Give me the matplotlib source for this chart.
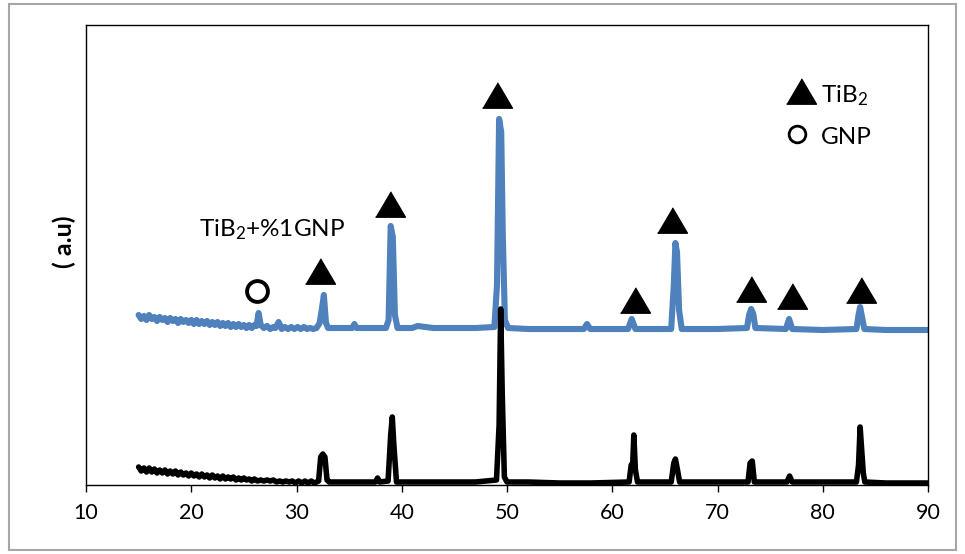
import matplotlib
matplotlib.use("Agg")
import matplotlib.pyplot as plt
from matplotlib.patches import Rectangle

plt.rcParams['font.family'] = ['Lato', 'DejaVu Sans']
plt.rcParams['mathtext.fontset'] = 'custom'
plt.rcParams['mathtext.rm'] = 'Lato'
plt.rcParams['mathtext.it'] = 'Lato:italic'

# TiB2 + 1% GNP pattern (upper, blue)
blue_2theta = [15.0, 15.25, 15.5, 15.75, 16.0, 16.25, 16.5, 16.75, 17.0, 17.25,
               17.5, 17.75, 18.0, 18.25, 18.5, 18.75, 19.0, 19.25, 19.5, 19.75,
               20.0, 20.25, 20.5, 20.75, 21.0, 21.25, 21.5, 21.75, 22.0, 22.25,
               22.5, 22.75, 23.0, 23.25, 23.5, 23.75, 24.0, 24.25, 24.5, 24.75,
               25.0, 25.25, 25.5, 25.75, 26.0, 26.2, 26.4, 26.6, 26.9, 27.2,
               27.5, 27.8, 28.0, 28.3, 28.6, 28.9, 29.2, 29.5, 29.8, 30.1,
               30.4, 30.7, 31.0, 31.3, 31.6, 31.9, 32.2, 32.4, 32.6, 32.8,
               33.0, 34.0, 35.3, 35.5, 35.7, 37.0, 38.5, 38.75, 38.95, 39.15,
               39.35, 39.6, 41.0, 41.5, 43.0, 45.0, 47.0, 48.8, 49.05, 49.25,
               49.45, 49.6, 49.8, 50.1, 52.0, 55.0, 57.3, 57.6, 57.9, 60.0,
               61.5, 61.85, 62.2, 63.0, 65.6, 65.85, 66.0, 66.15, 66.35, 66.6,
               70.0, 72.8, 73.0, 73.2, 73.4, 73.6, 76.5, 76.8, 77.1, 80.0,
               83.2, 83.4, 83.55, 83.75, 83.95, 86.0, 90.0]
blue_int = [170, 166, 169, 165, 170, 166, 168, 164, 168, 165,
            167, 163, 167, 164, 166, 162, 166, 163, 165, 162,
            165, 161, 165, 161, 164, 161, 164, 160, 163, 160,
            163, 159, 162, 159, 162, 158, 161, 158, 161, 158,
            160, 157, 160, 157, 160, 159, 172, 160, 157, 159,
            156, 158, 157, 163, 156, 158, 156, 158, 156, 158,
            156, 158, 156, 157, 156, 157, 162, 175, 190, 162,
            157, 157, 157, 161, 157, 157, 157, 165, 259, 248,
            170, 157, 157, 159, 157, 157, 157, 158, 200, 366,
            353, 250, 165, 157, 156, 156, 156, 161, 156, 156,
            156, 166, 156, 156, 156, 200, 242, 233, 175, 156,
            156, 157, 170, 176, 171, 157, 156, 166, 156, 155,
            156, 170, 178, 167, 156, 155, 155]

# TiB2 pattern (lower, black)
black_2theta = [15.0, 15.25, 15.5, 15.75, 16.0, 16.25, 16.5, 16.75, 17.0, 17.25,
                17.5, 17.75, 18.0, 18.25, 18.5, 18.75, 19.0, 19.25, 19.5, 19.75,
                20.0, 20.25, 20.5, 20.75, 21.0, 21.25, 21.5, 21.75, 22.0, 22.25,
                22.5, 22.75, 23.0, 23.25, 23.5, 23.75, 24.0, 24.25, 24.5, 24.75,
                25.0, 25.25, 25.5, 25.75, 26.0, 26.3, 26.6, 26.9, 27.2, 27.5,
                27.8, 28.1, 28.4, 28.7, 29.0, 29.3, 29.6, 29.9, 30.2, 30.5,
                30.8, 31.1, 31.4, 31.7, 32.1, 32.3, 32.5, 32.7, 32.9, 33.1,
                34.5, 36.0, 37.5, 37.7, 37.9, 38.7, 38.95, 39.1, 39.25, 39.5,
                41.0, 43.0, 45.0, 47.0, 49.0, 49.25, 49.4, 49.55, 49.75, 50.0,
                52.0, 55.0, 58.0, 61.6, 61.8, 61.95, 62.05, 62.2, 62.4, 65.6,
                65.85, 66.0, 66.2, 66.4, 72.9, 73.1, 73.3, 73.5, 76.6, 76.85,
                77.1, 83.2, 83.4, 83.55, 83.7, 83.85, 84.0, 86.0, 90.0]
black_int = [18, 14, 17, 13, 17, 13, 16, 12, 15, 12,
             15, 11, 14, 11, 14, 10, 13, 10, 12, 9,
             12, 9, 11, 8, 11, 8, 10, 7, 10, 7,
             9, 6, 9, 6, 8, 6, 8, 5, 7, 5,
             7, 5, 6, 4, 6, 4, 5, 4, 5, 4,
             5, 3, 4, 3, 4, 3, 4, 2, 4, 2,
             4, 2, 4, 2, 4, 28, 31, 28, 5, 3,
             3, 3, 3, 7, 3, 4, 50, 68, 40, 3,
             3, 3, 3, 3, 5, 60, 176, 90, 8, 3,
             3, 2, 2, 3, 20, 22, 50, 15, 3, 3,
             22, 26, 15, 3, 3, 22, 24, 3, 3, 9,
             3, 3, 20, 58, 35, 12, 3, 2, 2]

# phase markers
tib2_x = [32.28, 38.88, 49.02, 62.16, 65.7, 73.15, 77.12, 83.6]
tib2_y = [214, 281, 390, 185, 265, 196, 189, 195]
gnp_x = [26.28]
gnp_y = [194]

tri = [(-1, -0.85), (1, -0.85), (0, 0.85)]

fig = plt.figure(figsize=(9.65, 5.54), dpi=100)
fig.patches.append(Rectangle((9 / 965, 4 / 554), 947 / 965, 546 / 554,
                             transform=fig.transFigure, fill=False,
                             edgecolor='#a6a6a6', linewidth=1.5))
ax = fig.add_axes([86 / 965, 69 / 554, 842 / 965, 460 / 554])

ax.plot(blue_2theta, blue_int, color='#4f81bd', linewidth=4.4,
        solid_joinstyle='round', solid_capstyle='round')
ax.plot(black_2theta, black_int, color='black', linewidth=4.0,
        solid_joinstyle='round', solid_capstyle='round')

ax.plot(tib2_x, tib2_y, linestyle='none', marker=tri, markersize=21.5,
        color='black')
ax.plot(gnp_x, gnp_y, linestyle='none', marker='o', markersize=15,
        markerfacecolor='white', markeredgecolor='black', markeredgewidth=2.8)

# legend drawn as plain marks and text, like the reference
ax.plot([77.89], [394], linestyle='none', marker=tri, markersize=21.5,
        color='black')
ax.plot([77.55], [351], linestyle='none', marker='o', markersize=12,
        markerfacecolor='white', markeredgecolor='black', markeredgewidth=2)
ax.text(79.8, 389, r'TiB$_2$', fontsize=17.5, va='center', ha='left')
ax.text(79.8, 348, 'GNP', fontsize=17.5, va='center', ha='left')

ax.text(27.7, 255, r'TiB$_2$+%1GNP', fontsize=17.5, va='center', ha='center')

ax.set_xlim(10, 90)
ax.set_ylim(0, 460)
ax.set_xticks(range(10, 91, 10))
ax.set_yticks([])
ax.tick_params(axis='x', direction='out', length=5, width=1, pad=8,
               labelsize=15.5)
for s in ax.spines.values():
    s.set_linewidth(1.0)

fig.text(64 / 965, 1 - 242 / 554, '( a.u)', rotation=90, fontsize=18,
         fontweight='bold', ha='center', va='center')

fig.savefig('out.png', dpi=100)
